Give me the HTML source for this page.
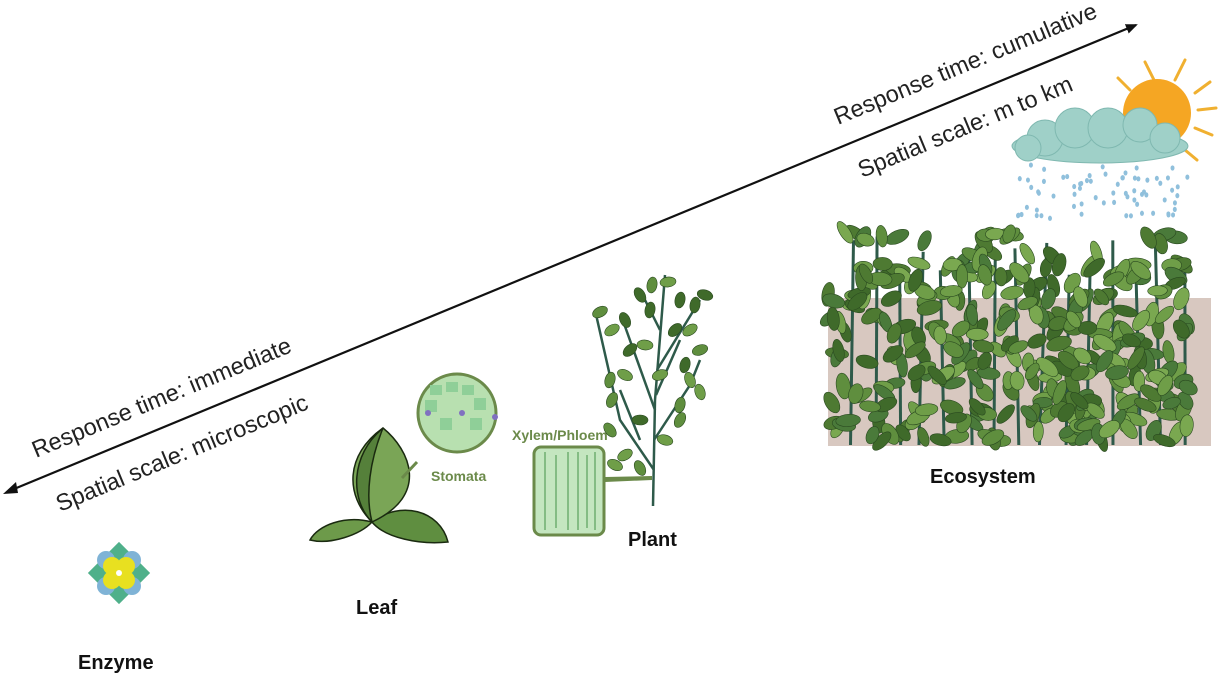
<!DOCTYPE html>
<html><head><meta charset="utf-8"><style>
body{margin:0;background:#fff;width:1220px;height:678px;overflow:hidden;font-family:"Liberation Sans",sans-serif}
svg{position:absolute;left:0;top:0}
</style></head><body>
<svg id="s" width="1220" height="678" viewBox="0 0 1220 678" xmlns="http://www.w3.org/2000/svg">
<defs>
<marker id="ah" markerWidth="12" markerHeight="10" refX="10" refY="5" orient="auto" markerUnits="userSpaceOnUse"><path d="M0,0 L12,5 L0,10 Z" fill="#111"/></marker>
</defs>
<line x1="14" y1="489" x2="1136" y2="25" stroke="#111" stroke-width="2.2" marker-end="url(#ah)"/>
<path d="M3,494 L16,482 L18,493 Z" fill="#111"/>
<g font-size="23.5" fill="#222" font-family="Liberation Sans, sans-serif">
<text transform="translate(36,458) rotate(-22.5)">Response time: immediate</text>
<text transform="translate(60,512) rotate(-22.5)">Spatial scale: microscopic</text>
<text transform="translate(838,125) rotate(-22.5)">Response time: cumulative</text>
<text transform="translate(862,178) rotate(-22.5)">Spatial scale: m to km</text>
</g>
<g font-weight="bold" font-size="20" fill="#111">
<text x="78" y="669">Enzyme</text>
<text x="356" y="614">Leaf</text>
<text x="628" y="546">Plant</text>
<text x="930" y="483">Ecosystem</text>
</g>
<!-- enzyme -->
<g transform="translate(119,573)">
<rect x="-22" y="-22" width="44" height="44" transform="rotate(45)" fill="#4fb08a"/>
<circle cx="-13" cy="-13" r="9" fill="#7fb3d6"/><circle cx="13" cy="-13" r="9" fill="#7fb3d6"/>
<circle cx="-13" cy="13" r="9" fill="#7fb3d6"/><circle cx="13" cy="13" r="9" fill="#7fb3d6"/>
<circle cx="-7" cy="-7" r="9" fill="#e8e020"/><circle cx="7" cy="-7" r="9" fill="#e8e020"/><circle cx="-7" cy="7" r="9" fill="#e8e020"/><circle cx="7" cy="7" r="9" fill="#e8e020"/>
<circle cx="0" cy="0" r="3" fill="#fff"/>
</g>
<!-- sun -->
<g stroke="#f0b030" stroke-width="3" stroke-linecap="round">
<line x1="1155" y1="82" x2="1145" y2="62"/><line x1="1175" y1="80" x2="1185" y2="60"/>
<line x1="1195" y1="93" x2="1210" y2="82"/><line x1="1198" y1="110" x2="1216" y2="108"/>
<line x1="1195" y1="128" x2="1212" y2="135"/><line x1="1130" y1="90" x2="1118" y2="78"/>
<line x1="1185" y1="150" x2="1197" y2="160"/>
</g>
<circle cx="1157" cy="113" r="34" fill="#f5a623"/>
<!-- cloud -->
<g fill="#9fd0c8" stroke="#7fb8b0" stroke-width="1">
<ellipse cx="1100" cy="146" rx="88" ry="17"/>
<circle cx="1045" cy="138" r="18"/><circle cx="1075" cy="128" r="20"/><circle cx="1108" cy="128" r="20"/><circle cx="1140" cy="125" r="17"/><circle cx="1165" cy="138" r="15"/><circle cx="1028" cy="148" r="13"/>
</g>
<g id="rain" fill="#90c0dc"></g>
<!-- ecosystem -->
<rect x="828" y="298" width="383" height="148" fill="#d8c8c0"/>
<g id="eco"></g>
<!-- leaf -->
<g stroke="#1a2a10" stroke-width="1.5">
<path d="M372,522 C345,515 318,525 310,540 C330,545 360,535 372,522 Z" fill="#6d9a4a"/>
<path d="M372,522 C400,500 440,510 448,542 C420,545 385,538 372,522 Z" fill="#5f8e40"/>
<path d="M372,522 C345,495 345,455 383,428 C410,450 430,495 372,522 Z" fill="#7aa556"/>
<path d="M372,522 C350,500 350,455 383,428 C370,460 365,495 372,522Z" fill="#55803a"/>
</g>
<line x1="417" y1="462" x2="402" y2="478" stroke="#6b8a4a" stroke-width="3"/>
<circle cx="457" cy="413" r="39" fill="#b8e0b0" stroke="#6b8a4a" stroke-width="3"/>
<g fill="#8fcf98"><rect x="430" y="385" width="12" height="10"/><rect x="446" y="382" width="12" height="10"/><rect x="462" y="385" width="12" height="10"/><rect x="425" y="400" width="12" height="12"/><rect x="474" y="398" width="12" height="12"/><rect x="440" y="418" width="12" height="12"/><rect x="470" y="418" width="12" height="12"/></g>
<circle cx="428" cy="413" r="3" fill="#8070c0"/><circle cx="462" cy="413" r="3" fill="#8070c0"/><circle cx="495" cy="417" r="3" fill="#8070c0"/>
<text x="431" y="481" font-size="14" font-weight="bold" fill="#6b8a4a">Stomata</text>
<text x="512" y="440" font-size="14" font-weight="bold" fill="#6b8a4a">Xylem/Phloem</text>
<rect x="534" y="447" width="70" height="88" rx="7" fill="#c4e6c0" stroke="#6b8a4a" stroke-width="3"/>
<g stroke="#6fae70" stroke-width="1.5" fill="none"><line x1="545" y1="452" x2="545" y2="530"/><line x1="568" y1="452" x2="568" y2="530"/><line x1="578" y1="452" x2="578" y2="530"/><line x1="595" y1="452" x2="595" y2="530"/><line x1="556" y1="455" x2="556" y2="528"/><line x1="587" y1="455" x2="587" y2="528"/></g>
<path d="M605,477 L652,476 L652,480 L605,482 Z" fill="#6b8a4a"/>
<!-- plant -->
<g stroke="#2e5a4a" stroke-width="2.5" fill="none">
<path d="M653,506 L655,400 L665,275"/>
<path d="M654,470 L620,420 L595,310"/><path d="M655,410 L622,318"/><path d="M657,370 L700,300"/>
<path d="M654,440 L690,385 L700,360"/><path d="M660,330 L640,290"/><path d="M656,395 L680,340"/>
<path d="M640,440 L620,390"/>
</g>
<g id="pl"></g>
</svg>
<script>
var ns="http://www.w3.org/2000/svg";
var seed=7;function r(){seed=(seed*16807)%2147483647;return seed/2147483647;}
function el(p,t,a){var e=document.createElementNS(ns,t);for(var k in a)e.setAttribute(k,a[k]);p.appendChild(e);return e;}
var rain=document.getElementById('rain');
for(var i=0;i<70;i++){el(rain,'ellipse',{cx:1018+r()*170,cy:165+r()*55,rx:2,ry:2.6});}
var eco=document.getElementById('eco');
var cols=["#4e7a32","#5f8e3e","#6f9e48","#3f6a2a","#7aa850","#4a7a3a"];
for(var sx=845;sx<1190;sx+=24){var ty=235+r()*40;el(eco,'line',{x1:sx+r()*8,y1:445,x2:sx+r()*14-4,y2:ty,stroke:"#2e5a4a","stroke-width":3});}
for(var i=0;i<380;i++){var x=826+r()*365,y=232+r()*210;if(y<262&&r()<0.5)continue;
el(eco,'ellipse',{cx:x,cy:y,rx:9+r()*4,ry:5+r()*2,fill:cols[Math.floor(r()*cols.length)],stroke:"#2a4a20","stroke-width":0.6,transform:"rotate("+(r()*180)+" "+x+" "+y+")"});}
var pl=document.getElementById('pl');
var pts=[[600,312],[612,330],[625,320],[640,295],[652,285],[668,282],[680,300],[695,305],[705,295],[630,350],[645,345],[675,330],[690,330],[610,380],[625,375],[660,375],[685,365],[700,350],[612,400],[640,420],[680,405],[700,392],[625,455],[640,468],[665,440],[680,420],[610,430],[615,465],[690,380],[650,310]];
pts.forEach(function(p){el(pl,'ellipse',{cx:p[0],cy:p[1],rx:8,ry:5,fill:cols[Math.floor(r()*3)+1],stroke:"#2a4a20","stroke-width":0.6,transform:"rotate("+(r()*180)+" "+p[0]+" "+p[1]+")"});});
</script>
</body></html>
